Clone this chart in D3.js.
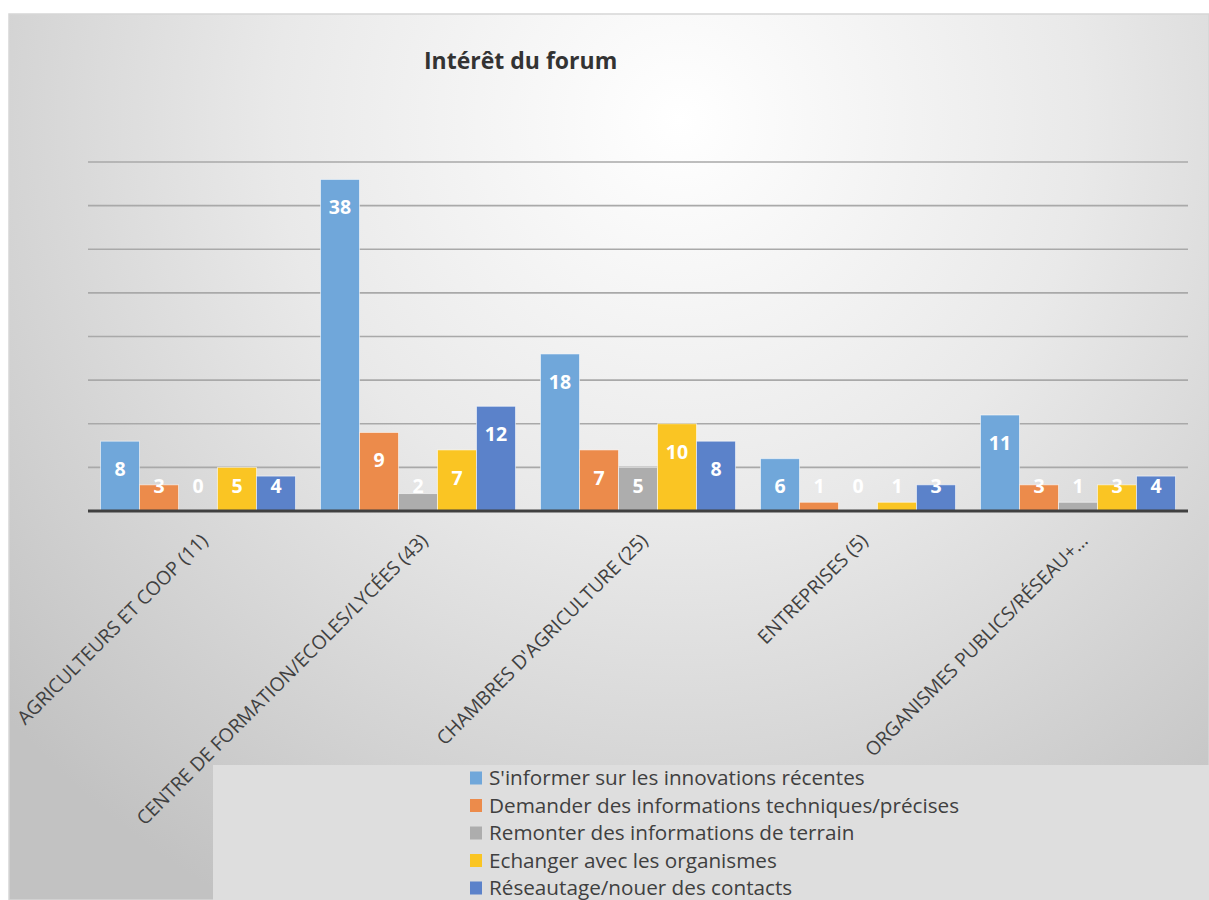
<!DOCTYPE html>
<html><head><meta charset="utf-8">
<script src="https://cdn.jsdelivr.net/npm/d3@7"></script>
<style>html,body{margin:0;padding:0;background:#fff;}svg{display:block;}</style>
</head><body>
<svg id="c" width="1209" height="900"></svg>
<script>
const categories = ["AGRICULTEURS ET COOP (11)", "CENTRE DE FORMATION/ECOLES/LYCÉES (43)", "CHAMBRES D'AGRICULTURE (25)", "ENTREPRISES (5)", "ORGANISMES PUBLICS/RÉSEAU+…"];
const seriesNames = ["S'informer sur les innovations récentes", "Demander des informations techniques/précises", "Remonter des informations de terrain", "Echanger avec les organismes", "Réseautage/nouer des contacts"];
const informer = [8, 38, 18, 6, 11];
const demander = [3, 9, 7, 1, 3];
const remonter = [0, 2, 5, 0, 1];
const echanger = [5, 7, 10, 1, 3];
const reseautage = [4, 12, 8, 3, 4];
const seriesValues = [informer, demander, remonter, echanger, reseautage];
const colors = ["#70A7DA", "#EC8B4B", "#ADADAD", "#FAC523", "#5B82CA"];
const yTicks = [5, 10, 15, 20, 25, 30, 35, 40];
const title = "Intérêt du forum";

const svg = d3.select("#c");
const W = 1209, H = 900;
const FONT = "'Open Sans', sans-serif";
const defs = svg.append("defs");
const rg = defs.append("radialGradient").attr("id", "bg")
  .attr("gradientUnits", "userSpaceOnUse")
  .attr("cx", 680).attr("cy", 120).attr("r", 900);
rg.append("stop").attr("offset", "0%").attr("stop-color", "#ffffff");
rg.append("stop").attr("offset", "45%").attr("stop-color", "#e9e9e9");
rg.append("stop").attr("offset", "100%").attr("stop-color", "#c2c2c2");

svg.append("rect").attr("x", 9).attr("y", 14).attr("width", W - 9).attr("height", H - 14)
  .attr("fill", "url(#bg)").attr("stroke", "#d6d6d6").attr("stroke-width", 1.5);

const margin = {left: 88, right: 1188, top: 162, bottom: 511};
const x0 = d3.scaleBand().domain(categories).range([margin.left, margin.right]).paddingInner(0.1136).paddingOuter(0.0568);
const x1 = d3.scaleBand().domain(d3.range(seriesNames.length)).range([0, x0.bandwidth()]).padding(0);
const y = d3.scaleLinear().domain([0, 40]).range([margin.bottom, margin.top]);

// gridlines
svg.append("g").selectAll("line").data(yTicks).join("line")
  .attr("x1", margin.left).attr("x2", margin.right)
  .attr("y1", d => y(d)).attr("y2", d => y(d))
  .attr("stroke", "#a9a9a9").attr("stroke-width", 1.6);

// title
svg.append("text").attr("x", 424).attr("y", 69).text(title)
  .attr("font-family", FONT).attr("font-weight", "bold")
  .attr("font-size", 23).attr("fill", "#333");

// bars
const groups = svg.append("g").selectAll("g").data(categories).join("g")
  .attr("transform", d => `translate(${x0(d)},0)`);
groups.each(function(cat, ci) {
  const g = d3.select(this);
  seriesValues.forEach((vals, si) => {
    const v = vals[ci];
    if (v > 0) {
      g.append("rect").attr("x", x1(si)).attr("width", x1.bandwidth())
        .attr("y", y(v)).attr("height", y(0) - y(v))
        .attr("fill", colors[si]).attr("stroke", "rgba(255,255,255,0.55)").attr("stroke-width", 1);
    }
  });
  seriesValues.forEach((vals, si) => {
    const v = vals[ci];
    const ly = Math.min(y(v) + 28, y(0) - 25);
    g.append("text").attr("x", x1(si) + x1.bandwidth() / 2).attr("y", ly)
      .attr("dy", "0.36em").attr("text-anchor", "middle")
      .attr("font-family", FONT).attr("font-weight", "bold")
      .attr("font-size", 19.5).attr("fill", "#fff").text(v);
  });
});

// baseline
svg.append("line").attr("x1", margin.left).attr("x2", margin.right)
  .attr("y1", y(0)).attr("y2", y(0)).attr("stroke", "#404040").attr("stroke-width", 3);

// category labels
svg.append("g").selectAll("text").data(categories).join("text")
  .attr("transform", d => `translate(${x0(d) + x0.bandwidth() / 2 + 11},${y(0) + 31}) rotate(-45)`)
  .attr("text-anchor", "end")
  .attr("font-family", FONT).attr("font-size", 19.2).attr("fill", "#404040")
  .text(d => d);

// legend
svg.append("rect").attr("x", 213).attr("y", 765).attr("width", W - 213).attr("height", H - 765)
  .attr("fill", "#dedede");
const lg = svg.append("g").selectAll("g").data(seriesNames).join("g")
  .attr("transform", (d, i) => `translate(470,${778 + i * 27.5})`);
lg.append("rect").attr("x", 0).attr("y", -6.5).attr("width", 12).attr("height", 13)
  .attr("fill", (d, i) => colors[i]);
lg.append("text").attr("x", 19).attr("y", 0).attr("dy", "0.35em")
  .attr("font-family", FONT).attr("font-size", 20.7).attr("fill", "#404040")
  .text(d => d);
</script>
</body></html>
